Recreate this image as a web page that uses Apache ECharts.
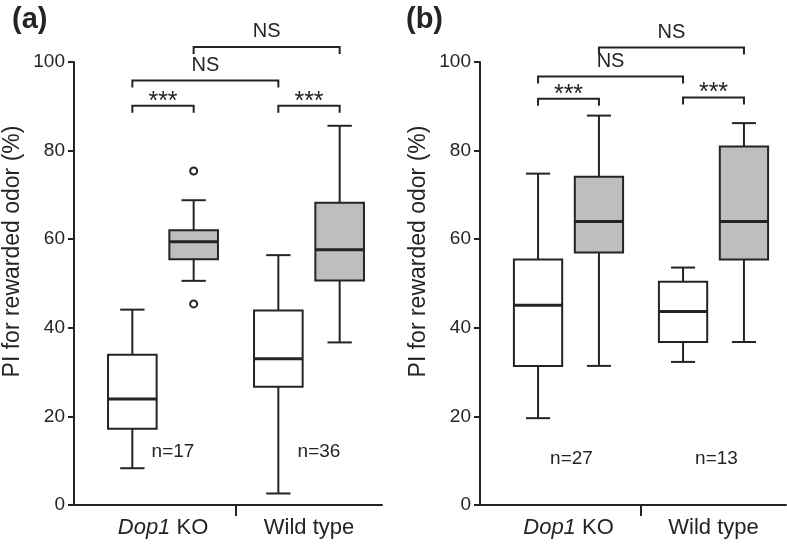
<!DOCTYPE html>
<html lang="en" style="height: 100%">

<head>
    <meta charset="utf-8">
</head>

<body style="height: 100%; margin: 0; background: #ffffff;">
    <div id="container" style="width: 787px; height: 548px"></div>

    <script type="text/javascript" src="https://cdn.jsdelivr.net/npm/echarts@6/dist/echarts.min.js"></script>
    <script type="text/javascript">
        // groups on the x axis
        var categories = ['Dop1 KO', 'Wild type'];

        // boxes: [low whisker, Q1, median, Q3, high whisker], one per category
        var aWhite = [[8.3, 17.2, 23.9, 33.9, 44.1], [2.6, 26.7, 33.0, 43.9, 56.4]];
        var aGray = [[50.6, 55.5, 59.4, 62.0, 68.8], [36.7, 50.7, 57.6, 68.2, 85.6]];
        var aOutliers = [[0, 75.4], [0, 45.4]]; // [category, value], grey box
        var aN = [17, 36];

        var bWhite = [[19.6, 31.4, 45.1, 55.4, 74.8], [32.3, 36.8, 43.7, 50.4, 53.6]];
        var bGray = [[31.4, 57.0, 64.0, 74.1, 87.9], [36.8, 55.4, 64.0, 80.9, 86.2]];
        var bOutliers = [];
        var bN = [27, 13];

        // significance brackets: box indices (0..3 = KO white, KO grey, WT white, WT grey)
        var compLeft = [0, 2, 0, 1];
        var compRight = [1, 3, 2, 3];
        var compText = ['***', '***', 'NS', 'NS'];
        var aCompLevel = [90.1, 90.1, 95.8, 103.4];
        var bCompLevel = [91.7, 92.0, 96.7, 103.3];

        var ink = '#262324';
        var grey = '#bdbec0';
        var font = 'Liberation Sans, Arial, Helvetica, sans-serif';
        var boxShift = 0.21;   // fraction of band width
        var boxFrac = 0.333;

        function boxX(api, k) {
            var cat = Math.floor(k / 2);
            var side = k % 2 === 0 ? -1 : 1;
            var band = api.size([1, 0])[0];
            return api.coord([cat, 0])[0] + side * boxShift * band;
        }

        function boxSeries(gi, data, fill, side) {
            return {
                type: 'custom',
                xAxisIndex: gi,
                yAxisIndex: gi,
                data: data.map(function (d, i) { return [i].concat(d); }),
                renderItem: function (params, api) {
                    var band = api.size([1, 0])[0];
                    var cx = api.coord([api.value(0), 0])[0] + side * boxShift * band;
                    var w = band * boxFrac;
                    var y = [1, 2, 3, 4, 5].map(function (d) { return api.coord([0, api.value(d)])[1]; });
                    var line = { stroke: ink, lineWidth: 2 };
                    return {
                        type: 'group',
                        children: [
                            { type: 'line', shape: { x1: cx, y1: y[0], x2: cx, y2: y[1] }, style: line },
                            { type: 'line', shape: { x1: cx, y1: y[3], x2: cx, y2: y[4] }, style: line },
                            { type: 'line', shape: { x1: cx - w / 4, y1: y[0], x2: cx + w / 4, y2: y[0] }, style: line },
                            { type: 'line', shape: { x1: cx - w / 4, y1: y[4], x2: cx + w / 4, y2: y[4] }, style: line },
                            { type: 'rect', shape: { x: cx - w / 2, y: y[3], width: w, height: y[1] - y[3] },
                              style: { fill: fill, stroke: ink, lineWidth: 2 } },
                            { type: 'line', shape: { x1: cx - w / 2, y1: y[2], x2: cx + w / 2, y2: y[2] },
                              style: { stroke: ink, lineWidth: 3 } }
                        ]
                    };
                },
                z: 3
            };
        }

        function outlierSeries(gi, data) {
            return {
                type: 'custom',
                xAxisIndex: gi,
                yAxisIndex: gi,
                data: data,
                renderItem: function (params, api) {
                    var band = api.size([1, 0])[0];
                    var p = api.coord([api.value(0), api.value(1)]);
                    return { type: 'circle', shape: { cx: p[0] + boxShift * band, cy: p[1], r: 3.5 },
                             style: { fill: '#fff', stroke: ink, lineWidth: 2 } };
                },
                z: 4
            };
        }

        function nSeries(gi, counts, shift, level) {
            return {
                type: 'custom',
                xAxisIndex: gi,
                yAxisIndex: gi,
                data: counts.map(function (n, i) { return [i, n]; }),
                renderItem: function (params, api) {
                    var p = api.coord([api.value(0), level]);
                    return { type: 'text', x: p[0] + shift, y: p[1],
                             style: { text: 'n=' + api.value(1), fill: ink, font: '19px ' + font,
                                      align: 'center', verticalAlign: 'middle' } };
                }
            };
        }

        function bracketSeries(gi, levels) {
            return {
                type: 'custom',
                xAxisIndex: gi,
                yAxisIndex: gi,
                clip: false,
                data: levels.map(function (v) { return [0, v]; }),
                renderItem: function (params, api) {
                    var i = params.dataIndex;
                    var x1 = boxX(api, compLeft[i]);
                    var x2 = boxX(api, compRight[i]);
                    var y = api.coord([0, api.value(1)])[1];
                    var stars = compText[i] === '***';
                    return {
                        type: 'group',
                        children: [
                            { type: 'polyline', shape: { points: [[x1, y + 7], [x1, y], [x2, y], [x2, y + 7]] },
                              style: { stroke: ink, lineWidth: 2, fill: null } },
                            { type: 'text', x: (x1 + x2) / 2, y: stars ? y - 4 : y - 5,
                              style: { text: compText[i], fill: ink,
                                       font: (stars ? '25px ' : '20px ') + font,
                                       align: 'center', verticalAlign: stars ? 'middle' : 'bottom' } }
                        ]
                    };
                }
            };
        }

        // x axis pieces the category axis does not draw: the stub to the y axis and the middle tick
        function frameSeries(gi, yOffset) {
            return {
                type: 'custom',
                xAxisIndex: gi,
                yAxisIndex: gi,
                clip: false,
                data: [[0, 0]],
                renderItem: function (params, api) {
                    var band = api.size([1, 0])[0];
                    var p = api.coord([0, 0]);
                    var left = p[0] - band / 2;
                    var mid = p[0] + band / 2;
                    return {
                        type: 'group',
                        children: [
                            { type: 'line', shape: { x1: left - yOffset, y1: p[1], x2: left, y2: p[1] },
                              style: { stroke: ink, lineWidth: 2 } },
                            { type: 'line', shape: { x1: mid, y1: p[1], x2: mid, y2: p[1] + 11 },
                              style: { stroke: ink, lineWidth: 2 } }
                        ]
                    };
                }
            };
        }

        var yOffsetA = 16;
        var yOffsetB = 16;

        function xAxisFor(gi) {
            return {
                gridIndex: gi,
                type: 'category',
                data: categories,
                axisLine: { lineStyle: { color: ink, width: 2 } },
                axisTick: { show: false },
                axisLabel: {
                    interval: 0,
                    hideOverlap: false,
                    margin: 12,
                    color: ink,
                    fontSize: 22,
                    fontFamily: font,
                    formatter: function (v) { return v === 'Dop1 KO' ? '{i|Dop1} KO' : v; },
                    rich: { i: { fontStyle: 'italic', fontSize: 22, fontFamily: font, color: ink } }
                }
            };
        }

        function yAxisFor(gi, off) {
            return {
                gridIndex: gi,
                type: 'value',
                min: 0,
                max: 100,
                interval: 20,
                offset: off,
                name: 'PI for rewarded odor (%)',
                nameLocation: 'middle',
                nameGap: 50,
                nameTextStyle: { color: ink, fontSize: 23, fontFamily: font, padding: [0, 0, 0, 64] },
                axisLine: { show: true, lineStyle: { color: ink, width: 2 } },
                axisTick: { show: true, length: 6, lineStyle: { color: ink, width: 2 } },
                axisLabel: { color: ink, fontSize: 19, fontFamily: font, margin: 9 },
                splitLine: { show: false }
            };
        }

        var dom = document.getElementById('container');
        var myChart = echarts.init(dom, null, { renderer: 'canvas' });

        var option = {
            animation: false,
            backgroundColor: '#ffffff',
            grid: [
                { left: 88, top: 62, width: 294, height: 443 },
                { left: 496, top: 62, width: 290, height: 443 }
            ],
            xAxis: [xAxisFor(0), xAxisFor(1)],
            yAxis: [yAxisFor(0, yOffsetA), yAxisFor(1, yOffsetB)],
            graphic: [
                { type: 'text', left: 12, top: 5, style: { text: '(a)', font: 'bold 29px ' + font, fill: ink } },
                { type: 'text', left: 406, top: 5, style: { text: '(b)', font: 'bold 29px ' + font, fill: ink } }
            ],
            series: [
                frameSeries(0, yOffsetA),
                boxSeries(0, aWhite, '#ffffff', -1),
                boxSeries(0, aGray, grey, 1),
                outlierSeries(0, aOutliers),
                nSeries(0, aN, 10, 12),
                bracketSeries(0, aCompLevel),
                frameSeries(1, yOffsetB),
                boxSeries(1, bWhite, '#ffffff', -1),
                boxSeries(1, bGray, grey, 1),
                outlierSeries(1, bOutliers),
                nSeries(1, bN, 3, 10.5),
                bracketSeries(1, bCompLevel)
            ]
        };

        myChart.setOption(option);
        window.addEventListener('resize', myChart.resize);
    </script>
</body>

</html>
